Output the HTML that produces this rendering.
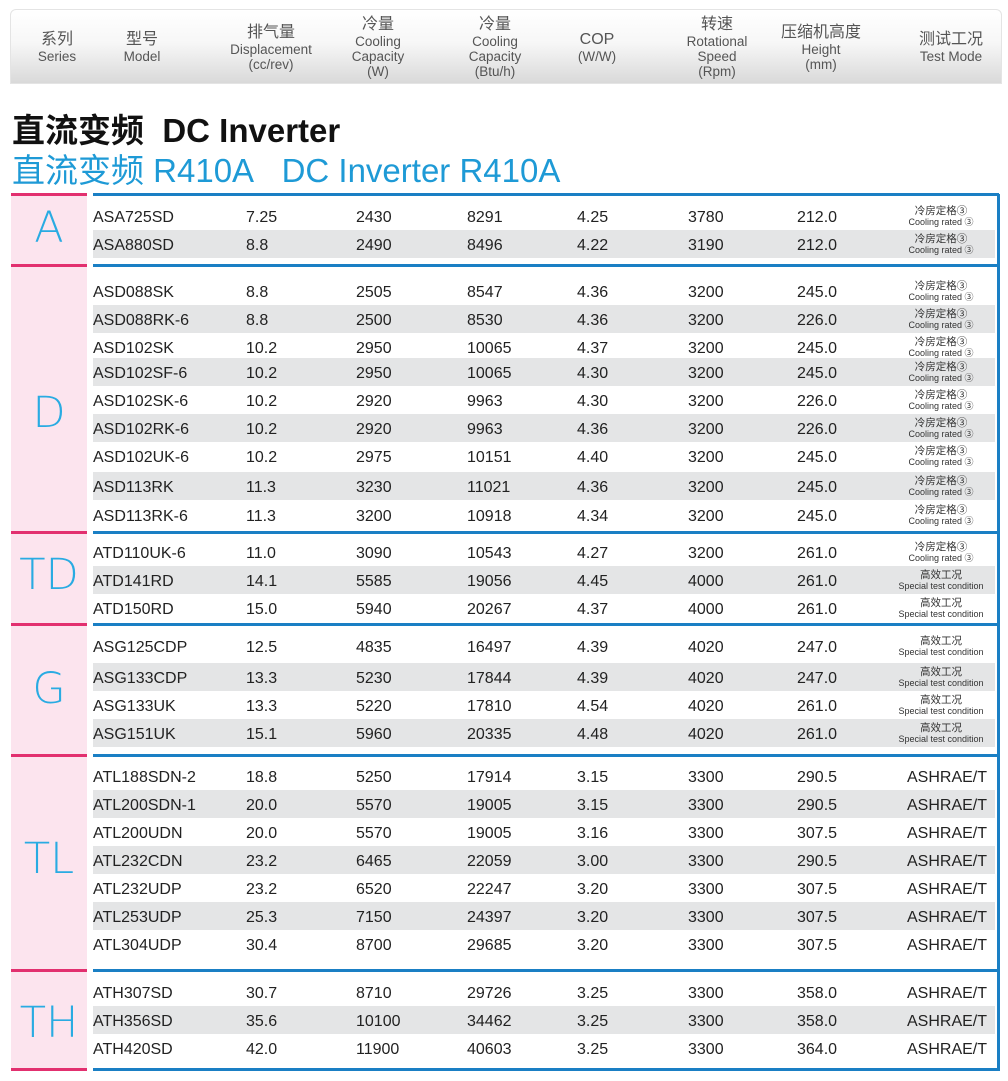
<!DOCTYPE html>
<html><head><meta charset="utf-8">
<style>
*{margin:0;padding:0;box-sizing:border-box}
body{width:1008px;height:1081px;background:#fff;position:relative;overflow:hidden;font-family:"Liberation Sans","Noto Sans CJK SC",sans-serif;color:#222}
.hdr{position:absolute;left:10px;top:9px;width:992px;height:75px;border:1px solid #e4e4e4;border-radius:6px 6px 0 0;background:linear-gradient(#fff 0%,#f7f7f7 45%,#d9d9d9 100%)}
.hc{position:absolute;top:0;height:75px;display:flex;flex-direction:column;justify-content:center;align-items:center;color:#555;font-size:13.5px;line-height:15px;text-align:center;transform:translateX(-50%);white-space:nowrap}
.hc .z{font-size:16px;line-height:18px}
.t1{position:absolute;left:12px;top:104px;font-size:33px;font-weight:bold;color:#111;letter-spacing:0;white-space:nowrap}
.t2{position:absolute;left:12px;top:144px;font-size:33px;color:#1e9ad6;white-space:nowrap}
.pk{position:absolute;left:11px;width:76px;background:#fce4ee}
.pl{position:absolute;left:11px;width:76px;height:3px;background:#e2306f}
.bl{position:absolute;left:93px;width:906px;height:3px;background:#1a7fc4}
.rv{position:absolute;left:997px;top:194px;width:3px;height:877px;background:#1a7fc4}
.ser{position:absolute;left:11px;width:76px;text-align:center;color:#29abe2;font-size:43px;font-family:"DejaVu Sans","Liberation Sans",sans-serif;font-weight:200}
.g{position:absolute;left:93px;width:902px;height:28px;background:#e4e5e6}
.r{position:absolute;left:0;width:1008px;height:28px;font-size:16px;line-height:28px;color:#222}
.r span{position:absolute;white-space:nowrap}
.a{left:93px}.b{left:246px}.c{left:356px}.d{left:467px}.e{left:577px}.f{left:688px}.h{left:797px}
.m{left:941px;transform:translateX(-50%);text-align:center;top:1px;line-height:12px;font-size:10.5px;color:#333}
.m i{display:block;font-style:normal;font-size:9px;line-height:10px}
.s{right:21px}
</style></head><body>
<div class="hdr">
<div class="hc" style="left:46px"><div class="z">系列</div>Series</div>
<div class="hc" style="left:131px"><div class="z">型号</div>Model</div>
<div class="hc" style="left:260px"><div class="z">排气量</div>Displacement<br>(cc/rev)</div>
<div class="hc" style="left:367px"><div class="z">冷量</div>Cooling<br>Capacity<br>(W)</div>
<div class="hc" style="left:484px"><div class="z">冷量</div>Cooling<br>Capacity<br>(Btu/h)</div>
<div class="hc" style="left:586px"><div class="z">COP</div>(W/W)</div>
<div class="hc" style="left:706px"><div class="z">转速</div>Rotational<br>Speed<br>(Rpm)</div>
<div class="hc" style="left:810px"><div class="z">压缩机高度</div>Height<br>(mm)</div>
<div class="hc" style="left:940px"><div class="z">测试工况</div>Test Mode</div>
</div>
<div class="t1">直流变频&nbsp;&nbsp;DC Inverter</div>
<div class="t2">直流变频 R410A&nbsp;&nbsp;&nbsp;DC Inverter R410A</div>

<div class="pk" style="top:194px;height:71px"></div>
<div class="pk" style="top:265px;height:267px"></div>
<div class="pk" style="top:532px;height:92px"></div>
<div class="pk" style="top:624px;height:131px"></div>
<div class="pk" style="top:755px;height:215px"></div>
<div class="pk" style="top:970px;height:99px"></div>

<div class="g" style="top:230px"></div>
<div class="g" style="top:305px"></div><div class="g" style="top:358px"></div><div class="g" style="top:414px"></div><div class="g" style="top:472px"></div>
<div class="g" style="top:566px"></div>
<div class="g" style="top:663px"></div><div class="g" style="top:719px"></div>
<div class="g" style="top:790px"></div><div class="g" style="top:846px"></div><div class="g" style="top:902px"></div>
<div class="g" style="top:1006px"></div>

<div class="pl" style="top:193px"></div><div class="bl" style="top:193px"></div>
<div class="pl" style="top:264px"></div><div class="bl" style="top:264px"></div>
<div class="pl" style="top:531px"></div><div class="bl" style="top:531px"></div>
<div class="pl" style="top:623px"></div><div class="bl" style="top:623px"></div>
<div class="pl" style="top:754px"></div><div class="bl" style="top:754px"></div>
<div class="pl" style="top:969px"></div><div class="bl" style="top:969px"></div>
<div class="pl" style="top:1068px"></div><div class="bl" style="top:1068px"></div>
<div class="rv"></div>

<div class="ser" style="top:203px">A</div>
<div class="ser" style="top:388px">D</div>
<div class="ser" style="top:550px">TD</div>
<div class="ser" style="top:664px">G</div>
<div class="ser" style="top:834px">TL</div>
<div class="ser" style="top:998px">TH</div>

<div class="r" style="top:204px"><span class="a">ASA725SD</span><span class="b">7.25</span><span class="c">2430</span><span class="d">8291</span><span class="e">4.25</span><span class="f">3780</span><span class="h">212.0</span><span class="m">冷房定格③<i>Cooling rated ③</i></span></div>
<div class="r" style="top:232px"><span class="a">ASA880SD</span><span class="b">8.8</span><span class="c">2490</span><span class="d">8496</span><span class="e">4.22</span><span class="f">3190</span><span class="h">212.0</span><span class="m">冷房定格③<i>Cooling rated ③</i></span></div>

<div class="r" style="top:279px"><span class="a">ASD088SK</span><span class="b">8.8</span><span class="c">2505</span><span class="d">8547</span><span class="e">4.36</span><span class="f">3200</span><span class="h">245.0</span><span class="m">冷房定格③<i>Cooling rated ③</i></span></div>
<div class="r" style="top:307px"><span class="a">ASD088RK-6</span><span class="b">8.8</span><span class="c">2500</span><span class="d">8530</span><span class="e">4.36</span><span class="f">3200</span><span class="h">226.0</span><span class="m">冷房定格③<i>Cooling rated ③</i></span></div>
<div class="r" style="top:335px"><span class="a">ASD102SK</span><span class="b">10.2</span><span class="c">2950</span><span class="d">10065</span><span class="e">4.37</span><span class="f">3200</span><span class="h">245.0</span><span class="m">冷房定格③<i>Cooling rated ③</i></span></div>
<div class="r" style="top:360px"><span class="a">ASD102SF-6</span><span class="b">10.2</span><span class="c">2950</span><span class="d">10065</span><span class="e">4.30</span><span class="f">3200</span><span class="h">245.0</span><span class="m">冷房定格③<i>Cooling rated ③</i></span></div>
<div class="r" style="top:388px"><span class="a">ASD102SK-6</span><span class="b">10.2</span><span class="c">2920</span><span class="d">9963</span><span class="e">4.30</span><span class="f">3200</span><span class="h">226.0</span><span class="m">冷房定格③<i>Cooling rated ③</i></span></div>
<div class="r" style="top:416px"><span class="a">ASD102RK-6</span><span class="b">10.2</span><span class="c">2920</span><span class="d">9963</span><span class="e">4.36</span><span class="f">3200</span><span class="h">226.0</span><span class="m">冷房定格③<i>Cooling rated ③</i></span></div>
<div class="r" style="top:444px"><span class="a">ASD102UK-6</span><span class="b">10.2</span><span class="c">2975</span><span class="d">10151</span><span class="e">4.40</span><span class="f">3200</span><span class="h">245.0</span><span class="m">冷房定格③<i>Cooling rated ③</i></span></div>
<div class="r" style="top:474px"><span class="a">ASD113RK</span><span class="b">11.3</span><span class="c">3230</span><span class="d">11021</span><span class="e">4.36</span><span class="f">3200</span><span class="h">245.0</span><span class="m">冷房定格③<i>Cooling rated ③</i></span></div>
<div class="r" style="top:503px"><span class="a">ASD113RK-6</span><span class="b">11.3</span><span class="c">3200</span><span class="d">10918</span><span class="e">4.34</span><span class="f">3200</span><span class="h">245.0</span><span class="m">冷房定格③<i>Cooling rated ③</i></span></div>

<div class="r" style="top:540px"><span class="a">ATD110UK-6</span><span class="b">11.0</span><span class="c">3090</span><span class="d">10543</span><span class="e">4.27</span><span class="f">3200</span><span class="h">261.0</span><span class="m">冷房定格③<i>Cooling rated ③</i></span></div>
<div class="r" style="top:568px"><span class="a">ATD141RD</span><span class="b">14.1</span><span class="c">5585</span><span class="d">19056</span><span class="e">4.45</span><span class="f">4000</span><span class="h">261.0</span><span class="m">高效工况<i>Special test condition</i></span></div>
<div class="r" style="top:596px"><span class="a">ATD150RD</span><span class="b">15.0</span><span class="c">5940</span><span class="d">20267</span><span class="e">4.37</span><span class="f">4000</span><span class="h">261.0</span><span class="m">高效工况<i>Special test condition</i></span></div>

<div class="r" style="top:634px"><span class="a">ASG125CDP</span><span class="b">12.5</span><span class="c">4835</span><span class="d">16497</span><span class="e">4.39</span><span class="f">4020</span><span class="h">247.0</span><span class="m">高效工况<i>Special test condition</i></span></div>
<div class="r" style="top:665px"><span class="a">ASG133CDP</span><span class="b">13.3</span><span class="c">5230</span><span class="d">17844</span><span class="e">4.39</span><span class="f">4020</span><span class="h">247.0</span><span class="m">高效工况<i>Special test condition</i></span></div>
<div class="r" style="top:693px"><span class="a">ASG133UK</span><span class="b">13.3</span><span class="c">5220</span><span class="d">17810</span><span class="e">4.54</span><span class="f">4020</span><span class="h">261.0</span><span class="m">高效工况<i>Special test condition</i></span></div>
<div class="r" style="top:721px"><span class="a">ASG151UK</span><span class="b">15.1</span><span class="c">5960</span><span class="d">20335</span><span class="e">4.48</span><span class="f">4020</span><span class="h">261.0</span><span class="m">高效工况<i>Special test condition</i></span></div>

<div class="r" style="top:764px"><span class="a">ATL188SDN-2</span><span class="b">18.8</span><span class="c">5250</span><span class="d">17914</span><span class="e">3.15</span><span class="f">3300</span><span class="h">290.5</span><span class="s">ASHRAE/T</span></div>
<div class="r" style="top:792px"><span class="a">ATL200SDN-1</span><span class="b">20.0</span><span class="c">5570</span><span class="d">19005</span><span class="e">3.15</span><span class="f">3300</span><span class="h">290.5</span><span class="s">ASHRAE/T</span></div>
<div class="r" style="top:820px"><span class="a">ATL200UDN</span><span class="b">20.0</span><span class="c">5570</span><span class="d">19005</span><span class="e">3.16</span><span class="f">3300</span><span class="h">307.5</span><span class="s">ASHRAE/T</span></div>
<div class="r" style="top:848px"><span class="a">ATL232CDN</span><span class="b">23.2</span><span class="c">6465</span><span class="d">22059</span><span class="e">3.00</span><span class="f">3300</span><span class="h">290.5</span><span class="s">ASHRAE/T</span></div>
<div class="r" style="top:876px"><span class="a">ATL232UDP</span><span class="b">23.2</span><span class="c">6520</span><span class="d">22247</span><span class="e">3.20</span><span class="f">3300</span><span class="h">307.5</span><span class="s">ASHRAE/T</span></div>
<div class="r" style="top:904px"><span class="a">ATL253UDP</span><span class="b">25.3</span><span class="c">7150</span><span class="d">24397</span><span class="e">3.20</span><span class="f">3300</span><span class="h">307.5</span><span class="s">ASHRAE/T</span></div>
<div class="r" style="top:932px"><span class="a">ATL304UDP</span><span class="b">30.4</span><span class="c">8700</span><span class="d">29685</span><span class="e">3.20</span><span class="f">3300</span><span class="h">307.5</span><span class="s">ASHRAE/T</span></div>

<div class="r" style="top:980px"><span class="a">ATH307SD</span><span class="b">30.7</span><span class="c">8710</span><span class="d">29726</span><span class="e">3.25</span><span class="f">3300</span><span class="h">358.0</span><span class="s">ASHRAE/T</span></div>
<div class="r" style="top:1008px"><span class="a">ATH356SD</span><span class="b">35.6</span><span class="c">10100</span><span class="d">34462</span><span class="e">3.25</span><span class="f">3300</span><span class="h">358.0</span><span class="s">ASHRAE/T</span></div>
<div class="r" style="top:1036px"><span class="a">ATH420SD</span><span class="b">42.0</span><span class="c">11900</span><span class="d">40603</span><span class="e">3.25</span><span class="f">3300</span><span class="h">364.0</span><span class="s">ASHRAE/T</span></div>
</body></html>
